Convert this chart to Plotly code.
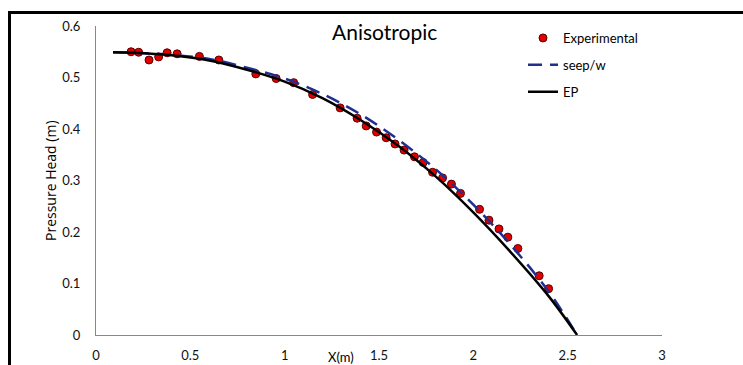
import plotly.graph_objects as go

# Experimental points
exp_x = [0.186, 0.226, 0.281, 0.332, 0.377, 0.430, 0.548, 0.651, 0.847, 0.955,
         1.048, 1.148, 1.294, 1.384, 1.432, 1.487, 1.538, 1.585, 1.633, 1.688,
         1.734, 1.784, 1.837, 1.884, 1.932, 2.033, 2.083, 2.136, 2.183, 2.236,
         2.349, 2.399]
exp_y = [0.550, 0.549, 0.534, 0.540, 0.548, 0.546, 0.541, 0.534, 0.507, 0.498,
         0.490, 0.467, 0.441, 0.421, 0.406, 0.394, 0.383, 0.371, 0.359, 0.346,
         0.335, 0.316, 0.305, 0.293, 0.275, 0.244, 0.223, 0.206, 0.190, 0.168,
         0.115, 0.090]

# EP (solid black)
ep_x = [0.09, 0.2, 0.4, 0.6, 0.8, 1.0, 1.2, 1.4, 1.6, 1.8, 2.0, 2.2, 2.4, 2.55]
ep_y = [0.549, 0.548, 0.543, 0.533, 0.515, 0.492, 0.460, 0.418, 0.368, 0.308,
        0.238, 0.160, 0.075, 0.0]

# seep/w (dashed navy)
sw_x = [0.09, 0.2, 0.4, 0.6, 0.8, 1.0, 1.2, 1.4, 1.6, 1.8, 2.0, 2.2, 2.4, 2.55]
sw_y = [0.549, 0.548, 0.544, 0.536, 0.519, 0.498, 0.468, 0.429, 0.380, 0.322,
        0.253, 0.174, 0.084, 0.0]

x_ticks = [0, 0.5, 1, 1.5, 2, 2.5, 3]
y_ticks = [0, 0.1, 0.2, 0.3, 0.4, 0.5, 0.6]

W, H = 743, 365
L, R, T, B = 96, 81, 26, 30
pw, ph = W - L - R, H - T - B

def px_x(p):
    return (p - L) / pw

def px_y(p):
    return (H - B - p) / ph

font_main = "Lato, 'Open Sans', sans-serif"

fig = go.Figure()
fig.add_trace(go.Scatter(
    x=exp_x, y=exp_y, mode="markers", name="Experimental",
    marker=dict(color="#E00000", size=8, line=dict(color="#5a0000", width=1)),
    legendgroup="a"))
fig.add_trace(go.Scatter(
    x=sw_x, y=sw_y, mode="lines", name="seep/w", line_shape="spline",
    line=dict(color="#1F2F8F", width=2.5, dash="14px,8px"),
    legendgroup="b"))
fig.add_trace(go.Scatter(
    x=ep_x, y=ep_y, mode="lines", name="EP", line_shape="spline",
    line=dict(color="#000000", width=2.5),
    legendgroup="c"))

fig.update_layout(
    width=W, height=H,
    margin=dict(l=L, r=R, t=T, b=B, autoexpand=False),
    paper_bgcolor="white", plot_bgcolor="white",
    font=dict(family=font_main, size=13, color="#1a1a1a"),
    showlegend=True,
    legend=dict(x=px_x(523), y=px_y(23), xanchor="left", yanchor="top",
                bgcolor="rgba(0,0,0,0)", tracegroupgap=7,
                traceorder="grouped",
                font=dict(family=font_main, size=13, color="#000")),
    xaxis=dict(range=[0, 3], tickvals=x_ticks, ticktext=[str(v) for v in x_ticks],
               showgrid=False, zeroline=False, showline=True, automargin=False,
               linecolor="#888888", linewidth=1, ticks="",
               ticklabelstandoff=8, tickfont=dict(size=13, color="#111")),
    yaxis=dict(range=[0, 0.6], tickvals=y_ticks, ticktext=[str(v) for v in y_ticks],
               showgrid=False, zeroline=False, showline=True, automargin=False,
               linecolor="#888888", linewidth=1, ticks="",
               ticklabelstandoff=12, tickfont=dict(size=13, color="#111")),
    shapes=[dict(type="rect", xref="paper", yref="paper",
                 x0=px_x(9.5), x1=px_x(760), y0=px_y(390), y1=px_y(12.5),
                 line=dict(color="black", width=3), fillcolor="rgba(0,0,0,0)",
                 layer="above")],
    annotations=[
        dict(text="Anisotropic", xref="paper", yref="paper",
             x=px_x(384), y=px_y(32), xanchor="center", yanchor="middle",
             showarrow=False,
             font=dict(size=21, color="#000", family=font_main)),
        dict(text="X(m)", xref="paper", yref="paper",
             x=px_x(341), y=px_y(357), xanchor="center", yanchor="middle",
             showarrow=False,
             font=dict(size=13, color="#000", family=font_main)),
        dict(text="Pressure Head (m)", xref="paper", yref="paper",
             x=px_x(51), y=px_y(181), xanchor="center", yanchor="middle",
             showarrow=False, textangle=-90,
             font=dict(size=14, color="#000", family="'Open Sans', sans-serif")),
    ],
)

fig.write_html("out.html")
